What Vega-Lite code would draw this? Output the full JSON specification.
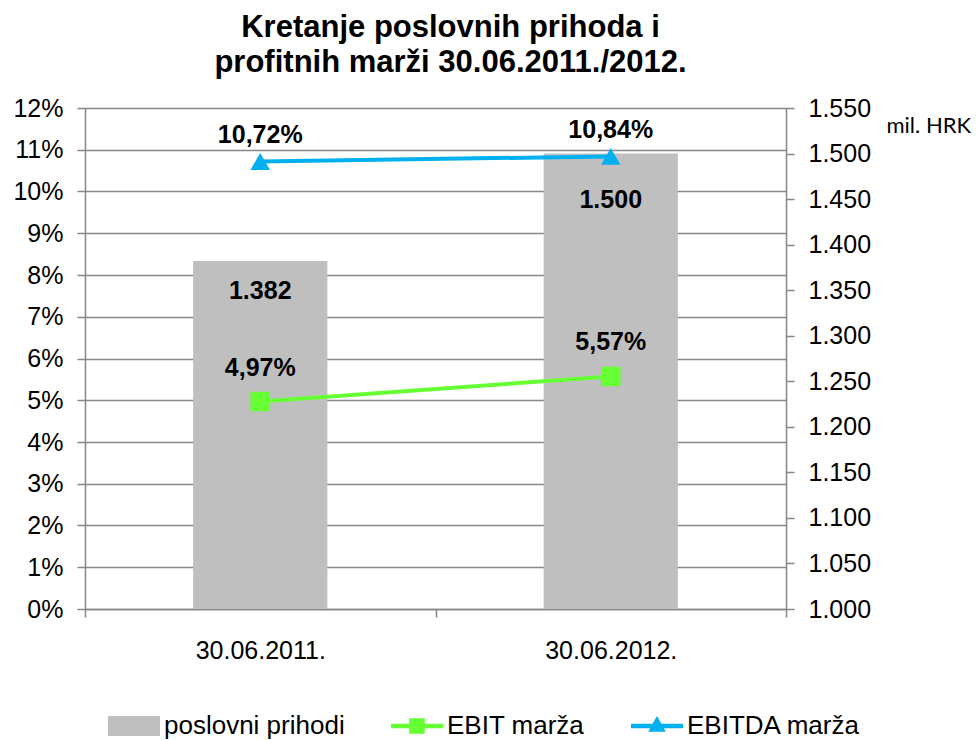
{
  "$schema": "https://vega.github.io/schema/vega-lite/v6.json",
  "width": 701,
  "height": 501,
  "autosize": {"type": "none"},
  "padding": {"left": 85, "top": 108, "right": 192, "bottom": 131},
  "background": "white",
  "config": {
    "locale": {"number": {"decimal": ",", "thousands": ".", "grouping": [3], "currency": ["", " kn"]}},
    "font": "Liberation Sans",
    "view": {"stroke": null},
    "axis": {
      "labelFont": "Liberation Sans",
      "labelFontSize": 25,
      "labelColor": "#000000",
      "domainColor": "#868686",
      "tickColor": "#868686",
      "gridColor": "#868686",
      "domainWidth": 1.5,
      "tickWidth": 1.5,
      "gridWidth": 1.5,
      "tickSize": 8
    }
  },
  "title": {
    "text": ["Kretanje poslovnih prihoda i", "profitnih marži 30.06.2011./2012."],
    "font": "Liberation Sans",
    "fontSize": 31,
    "fontWeight": "bold",
    "color": "#000000",
    "anchor": "middle",
    "dx": 15,
    "offset": 17,
    "lineHeight": 35
  },
  "data": {
    "values": [
      {"datum": "30.06.2011.", "series": "poslovni prihodi", "value": 1382},
      {"datum": "30.06.2012.", "series": "poslovni prihodi", "value": 1500},
      {"datum": "30.06.2011.", "series": "EBIT marža", "value": 0.0497},
      {"datum": "30.06.2012.", "series": "EBIT marža", "value": 0.0557},
      {"datum": "30.06.2011.", "series": "EBITDA marža", "value": 0.1072},
      {"datum": "30.06.2012.", "series": "EBITDA marža", "value": 0.1084}
    ]
  },
  "encoding": {
    "x": {
      "field": "datum",
      "type": "nominal",
      "scale": {"type": "band", "paddingInner": 0, "paddingOuter": 0},
      "axis": {"title": null, "labelAngle": 0, "tickBand": "extent", "labelPadding": 21, "grid": false}
    }
  },
  "layer": [
    {
      "transform": [{"filter": "datum.series === 'poslovni prihodi'"}],
      "encoding": {
        "y": {
          "field": "value",
          "type": "quantitative",
          "scale": {"domain": [1000, 1550], "nice": false, "zero": false},
          "axis": {
            "orient": "right",
            "format": ",.0f",
            "values": [1000, 1050, 1100, 1150, 1200, 1250, 1300, 1350, 1400, 1450, 1500, 1550],
            "grid": false,
            "labelPadding": 14,
            "title": "mil. HRK",
            "titleAngle": 0,
            "titleX": 100,
            "titleY": 17,
            "titleAlign": "left",
            "titleBaseline": "middle",
            "titleFont": "Lato",
            "titleFontSize": 22,
            "titleFontWeight": "normal",
            "titleColor": "#000000"
          }
        }
      },
      "layer": [
        {
          "mark": {"type": "bar", "width": {"band": 0.383}},
          "encoding": {
            "y2": {"datum": 1000},
            "color": {
              "field": "series",
              "type": "nominal",
              "scale": {"domain": ["poslovni prihodi", "EBIT marža", "EBITDA marža"], "range": ["#BFBFBF", "#66FF33", "#00B0F0"]},
              "legend": {
                "title": null,
                "orient": "none",
                "legendX": 23,
                "legendY": 592,
                "direction": "horizontal",
                "labelFont": "Liberation Sans",
                "labelFontSize": 26,
                "labelColor": "#000000",
                "labelOffset": 4,
                "columnPadding": 46,
                "symbolSize": 2704,
                "labelLimit": 400,
                "encode": {
                  "symbols": {
                    "update": {
                      "shape": {"signal": "datum.value === 'poslovni prihodi' ? 'M-1,-0.38H1V0.38H-1Z' : datum.value === 'EBIT marža' ? 'M-1,-0.09H1V0.09H-1Z M-0.3,-0.3H0.3V0.3H-0.3Z' : 'M-1,-0.09H1V0.09H-1Z M0,-0.38L0.34,0.22H-0.34Z'"},
                      "fill": {"signal": "datum.value === 'poslovni prihodi' ? '#BFBFBF' : datum.value === 'EBIT marža' ? '#66FF33' : '#00B0F0'"},
                      "stroke": {"value": "transparent"},
                      "strokeWidth": {"value": 0},
                      "opacity": {"value": 1},
                      "fillOpacity": {"value": 1}
                    }
                  }
                }
              }
            }
          }
        },
        {
          "transform": [{"filter": "datum.datum === '30.06.2011.'"}],
          "mark": {"type": "text", "dy": 30, "fontSize": 25, "fontWeight": "bold", "color": "#000000", "font": "Liberation Sans", "baseline": "middle"},
          "encoding": {"text": {"field": "value", "type": "quantitative", "format": ",.0f"}}
        },
        {
          "transform": [{"filter": "datum.datum === '30.06.2012.'"}],
          "mark": {"type": "text", "dy": 46, "fontSize": 25, "fontWeight": "bold", "color": "#000000", "font": "Liberation Sans", "baseline": "middle"},
          "encoding": {"text": {"field": "value", "type": "quantitative", "format": ",.0f"}}
        }
      ]
    },
    {
      "transform": [{"filter": "datum.series !== 'poslovni prihodi'"}],
      "encoding": {
        "y": {
          "field": "value",
          "type": "quantitative",
          "scale": {"domain": [0, 0.12], "nice": false},
          "axis": {
            "orient": "left",
            "format": ".0%",
            "values": [0, 0.01, 0.02, 0.03, 0.04, 0.05, 0.06, 0.07, 0.08, 0.09, 0.1, 0.11, 0.12],
            "grid": true,
            "labelPadding": 14,
            "title": null
          }
        }
      },
      "layer": [
        {
          "mark": {"type": "line", "strokeWidth": 4},
          "encoding": {
            "color": {"field": "series", "type": "nominal"}
          }
        },
        {
          "mark": {"type": "point", "filled": true, "opacity": 1, "size": 380},
          "encoding": {
            "color": {"field": "series", "type": "nominal"},
            "shape": {"field": "series", "type": "nominal", "scale": {"domain": ["EBIT marža", "EBITDA marža"], "range": ["square", "triangle-up"]}, "legend": null}
          }
        },
        {
          "transform": [{"filter": "datum.series === 'EBIT marža'"}],
          "mark": {"type": "text", "dy": -34, "fontSize": 25, "fontWeight": "bold", "color": "#000000", "font": "Liberation Sans", "baseline": "middle"},
          "encoding": {"text": {"field": "value", "type": "quantitative", "format": ".2%"}}
        },
        {
          "transform": [{"filter": "datum.series === 'EBITDA marža'"}],
          "mark": {"type": "text", "dy": -26, "fontSize": 25, "fontWeight": "bold", "color": "#000000", "font": "Liberation Sans", "baseline": "middle"},
          "encoding": {"text": {"field": "value", "type": "quantitative", "format": ".2%"}}
        }
      ]
    }
  ],
  "resolve": {"scale": {"y": "independent"}}
}
